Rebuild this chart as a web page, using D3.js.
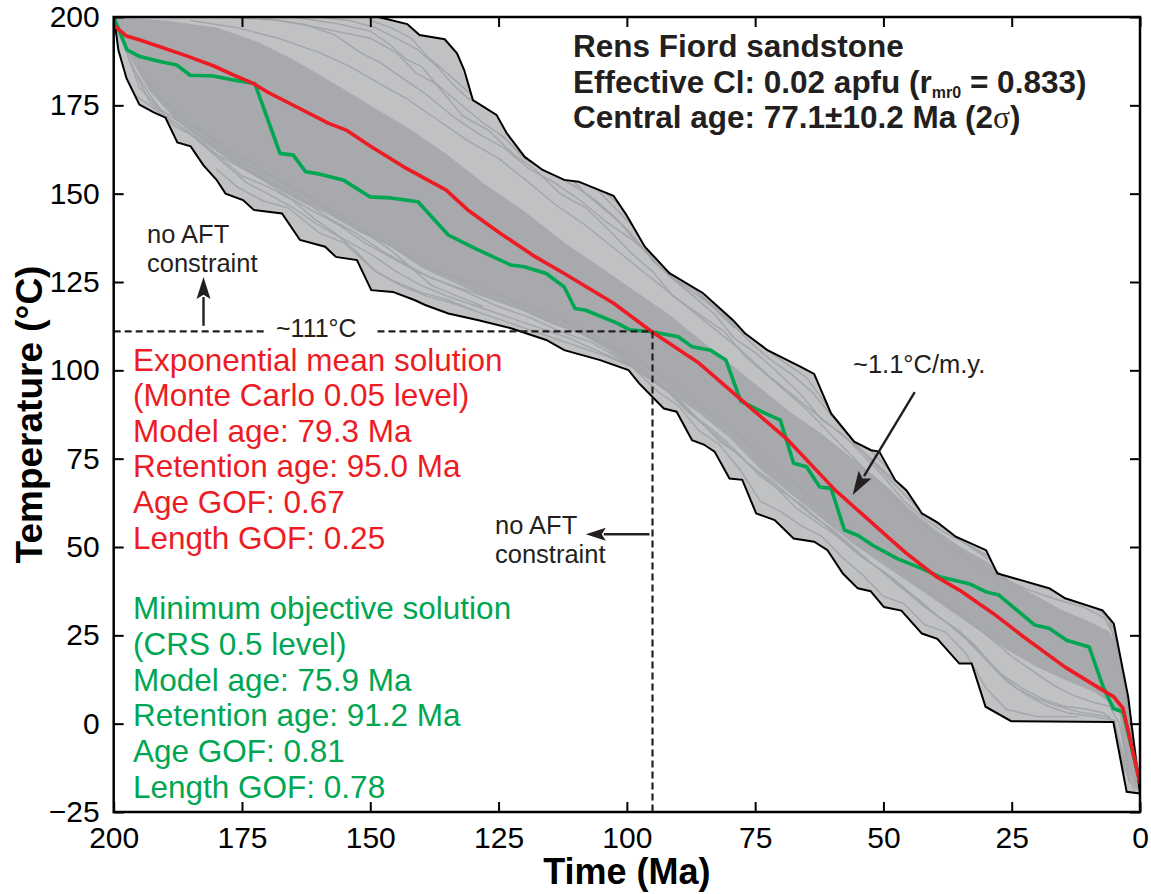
<!DOCTYPE html>
<html><head><meta charset="utf-8">
<script src="https://cdn.jsdelivr.net/npm/d3@7"></script>
<style>
body{margin:0;background:#fff;}
svg{display:block;font-family:"Liberation Sans",Arial,Helvetica,sans-serif;}
</style></head>
<body><svg id="c" width="1151" height="894"></svg>
<script>
// ---------- data (time Ma, temperature °C) ----------
const xTicks = [200,175,150,125,100,75,50,25,0];
const yTicks = [-25,0,25,50,75,100,125,150,175,200];

const envelopeUpper = [[200,200],[148.4,200],[142.8,198.0],[140.4,194.9],[135.5,193.7],[133.1,189.7],[131.7,185.0],[130.0,176.5],[125.4,172.3],[123.4,167.1],[119.9,160.4],[116.4,156.7],[112.2,153.9],[109.4,153.4],[102.6,149.4],[100.1,144.0],[96.5,135.0],[91.7,127.5],[85.2,121.9],[79.3,114.2],[77.0,110.5],[72.6,105.7],[66.1,101.0],[63.5,99.0],[60.2,87.8],[55.7,79.8],[52.4,77.4],[50.8,77.0],[47.7,68.9],[45.5,66.0],[42.5,59.5],[39.5,57.0],[35.9,52.9],[30.0,49.1],[27.8,42.5],[17.6,38.3],[14.6,35.5],[7.3,32.1],[5.1,28.3],[2.3,7.6],[0,-19.7]];

const envelopeLower = [[200,200],[199.6,196.3],[199.1,190.7],[197.5,182.6],[195.0,175.2],[192.2,173.0],[189.9,171.5],[187.6,164.5],[185.0,163.4],[182.5,158.0],[180.0,154.0],[178.2,150.0],[174.8,148.2],[172.7,145.4],[167.2,144.4],[163.7,136.9],[158.8,135.0],[156.7,132.1],[152.6,131.2],[149.8,122.7],[145.6,122.2],[141.4,119.9],[139.3,118.5],[134.8,116.1],[128.9,114.2],[122.6,111.9],[115.7,108.6],[112.2,105.7],[105.2,102.9],[99.7,100.1],[97.6,96.3],[92.8,89.2],[90.3,88.3],[87.3,80.2],[85.0,79.0],[82.9,77.0],[80.0,69.4],[77.5,69.0],[74.8,59.5],[71.2,57.6],[67.5,52.4],[63.5,51.5],[60.9,49.1],[57.9,42.5],[55.0,38.3],[52.5,37.5],[49.9,33.0],[46.5,32.0],[42.5,25.5],[39.5,24.0],[35.2,17.0],[32.8,17.0],[30.1,4.8],[25.1,0.7],[5.2,0.5],[2.6,-19.3],[0,-19.8]];

// solid (dense) part of the path cloud
const coreUpper = [[200,200],[190,199],[180,197],[172,193],[165,188],[158,182],[150,175],[142,168],[135,161],[128,153],[120,145],[112,136],[105,129],[98,122],[92,116],[86,109],[80,102],[74,95],[68,88],[62,82],[56,75],[50,68],[45,61],[40,55],[35,50],[30,46],[25,40],[20,36],[15,32],[10,29],[6,26],[4,20],[2,5],[0,-15]];
const coreLower = [[200,198],[197,189],[193,179],[188,171],[182,164],[176,158],[170,153],[164,148],[158,144],[152,139],[146,135],[140,129],[134,125],[128,121],[122,118],[116,114],[110,111],[104,106],[98,100],[92,94],[86,88],[80,81],[74,72],[68,65],[62,58],[56,51],[50,45],[44,39],[38,33],[32,27],[26,21],[20,16],[14,12],[9,9],[6,6],[4,3],[3,-10],[1,-18],[0,-19]];

// individual t-T paths visible in the sparse outer parts of the cloud
const paths = [
 [[178,200],[168,199],[160,197],[150,194],[145,190],[141,184],[137,181],[133,176],[128,170],[124,166],[120,160],[115,156],[110,152],[106,148],[102,143],[98,136],[94,130],[90,125],[85,120],[80,114],[76,108],[72,103],[68,99],[64,94],[60,87],[56,80],[52,74],[48,68],[44,62],[40,57],[36,53],[32,49],[27,44],[22,40],[16,37],[10,34],[6,30],[4,22],[2,5],[0.5,-14]],
 [[165,200],[156,198],[150,196],[146,192],[143,188],[140,186],[136,179],[132,172],[127,168],[122,161],[118,157],[113,150],[108,146],[103,139],[99,133],[95,128],[91,121],[86,116],[81,111],[77,104],[73,99],[69,94],[65,89],[61,83],[57,77],[53,71],[49,66],[45,59],[41,55],[37,50],[33,46],[28,42],[22,38],[16,35],[11,33],[7,30],[5,25],[3,12],[1,-12]],
 [[150,199],[146,197],[142,194],[139,189],[135,184],[131,179],[126,173],[121,166],[117,162],[112,156],[108,150],[104,145],[100,140],[96,133],[92,127],[87,121],[83,116],[79,109],[75,105],[71,100],[66,93],[62,86],[58,82],[54,76],[50,70],[46,63],[42,58],[38,54],[34,51],[29,47],[24,42],[18,39],[12,36],[8,33],[6,29],[4,18],[2,0]],
 [[185,199],[176,197],[168,194],[160,190],[154,186],[148,181],[143,177],[137,171],[131,165],[125,160],[119,153],[114,147],[108,141],[102,134],[96,127],[90,120],[84,113],[78,106],[72,98],[66,91],[60,84],[54,77],[48,69],[42,62],[36,56],[30,51],[24,46],[18,41],[12,37],[7,33],[5,28],[3,15],[1,-8]],
 [[140,198],[136,195],[133,190],[130,183],[127,178],[123,171],[119,165],[115,160],[111,155],[107,153],[103,147],[99,141],[95,131],[91,126],[87,123],[82,117],[78,112],[74,107],[70,103],[65,98],[61,90],[57,84],[53,78],[49,72],[45,65],[41,60],[37,56],[33,52],[29,48],[24,43],[18,40],[12,37],[8,33],[5,27]],
 [[172,200],[163,198],[157,195],[152,190],[148,187],[144,183],[139,178],[134,172],[129,167],[124,163],[119,157],[114,153],[109,148],[104,142],[99,137],[94,131],[89,126],[84,119],[79,112]],
 [[160,200],[154,199],[149,197],[145,194],[141,191],[137,186],[134,181],[131,177],[127,174],[122,168],[118,163],[113,159],[109,154],[104,150],[100,145],[96,139],[92,132],[88,127]],
 [[199,195],[196,185],[193,178],[190,172],[186,168],[182,163],[178,158],[174,153],[170,150],[165,146],[160,141],[155,137],[150,133],[145,128],[140,124],[135,121],[129,118],[123,115],[117,112],[111,109],[105,105],[100,102],[95,97],[90,92],[86,86],[82,80],[78,76],[74,70],[70,66],[66,62],[62,57],[58,52],[54,47],[50,43],[46,38],[42,33],[38,29],[34,24],[30,18],[26,12],[22,8],[18,5],[14,3],[9,2],[5,1],[3,-12],[1,-19]],
 [[198,192],[195,180],[191,174],[187,170],[183,166],[178,161],[173,156],[168,152],[163,148],[158,143],[153,139],[148,134],[143,130],[138,126],[132,123],[126,120],[120,117],[114,113],[108,110],[102,106],[97,100],[92,94],[88,88],[84,84],[80,79],[76,73],[72,69],[68,64],[64,59],[60,55],[56,50],[52,45],[48,41],[44,36],[40,31],[36,27],[32,22],[28,15],[24,10],[20,7],[16,5],[11,3],[6,2],[4,-5],[2,-17]],
 [[197,188],[193,176],[189,171],[185,167],[181,162],[176,158],[171,154],[166,149],[161,145],[156,141],[151,136],[146,132],[141,128],[136,125],[131,122],[125,118],[119,115],[113,111],[107,108],[101,103],[96,98],[91,93],[87,87],[83,82],[79,77],[75,72],[71,67],[67,61],[63,57],[59,53],[55,48],[51,44],[47,39],[43,35],[39,30],[35,26],[31,20],[27,14],[23,10],[19,7],[15,5],[10,4],[7,3],[5,0],[3,-14]],
 [[194,183],[190,175],[186,170],[181,166],[177,162],[172,158],[167,153],[162,149],[157,144],[152,140],[147,136],[142,132],[137,128],[131,125],[126,122],[121,119],[115,116],[109,112],[104,108],[99,104],[94,99],[89,94],[85,89],[81,85],[77,80],[73,75],[69,70],[65,65],[61,60],[57,56],[53,51],[49,46],[45,42],[41,37],[37,33],[33,29],[29,24],[25,19],[21,15],[17,11],[13,8],[9,6],[6,5],[4,0],[2,-16]],
 [[180,157],[176,152],[171,148],[166,146],[160,139],[155,136],[149,128],[144,124],[139,121],[134,119],[128,116],[122,113],[116,110],[110,107],[104,104],[99,101],[94,94],[90,90],[86,83],[82,79],[78,72],[74,63],[70,60],[66,56],[62,53],[58,47],[54,42],[50,36],[46,34],[42,28],[38,26],[34,20],[30,10],[26,4],[20,2],[12,2]],
 [[196,178],[192,174],[188,169],[184,166],[179,160],[175,155],[170,152],[165,148],[161,143],[157,139],[153,134],[149,128],[145,125],[140,122],[135,120],[130,117]],
 [[190,176],[186,171],[183,168],[179,163],[174,158],[169,155],[164,151],[159,147],[154,142],[150,138],[146,134],[142,129],[138,124],[133,121],[128,118]]
];

const meanPath = [[200,197.7],[197.5,194.6],[194.9,193.5],[191,191.6],[185.8,189],[180.6,186.2],[176.7,183.6],[172.8,181.2],[170.2,178.9],[165.1,175.1],[158.1,169.9],[154.7,168.0],[149.8,163.3],[143.5,157.6],[135.2,151.0],[131.0,145.4],[124.7,138.8],[117.8,132.1],[112.2,127.4],[102.5,118.9],[95.2,111.0],[85.9,102.0],[77.8,91.8],[68.9,80.7],[59.4,66.1],[54.3,59.5],[48.4,51.9],[45.5,48.2],[39.6,41.5],[35.2,37.8],[28.6,31.2],[22.7,24.6],[14.6,16.0],[7.3,9.5],[5.1,7.6],[3.3,4.3],[0,-16.8]];

const bestPath = [[200,200],[197.4,190.7],[194.9,188.8],[191,187.4],[187.7,186.4],[185.1,183.5],[180.6,183.3],[176.7,182.2],[172.5,181.2],[167.6,161.4],[165,160.9],[162.6,156.2],[160,155.6],[155.3,153.9],[150.1,149.1],[146,148.8],[140.7,147.7],[134.8,138.3],[129.6,134.5],[122.6,129.8],[120,129.3],[115.7,127.4],[112.2,123.6],[110.1,117.5],[108,117],[101.8,113.3],[99.5,111.5],[95.1,110.9],[90,109.5],[87.3,106.7],[83.7,105.7],[80.7,102.9],[77.8,91.3],[73.0,87.8],[70.1,85.9],[67.5,73.7],[65.0,72.7],[62.4,67.0],[60.2,66.6],[57.6,54.8],[55.0,53.3],[52.1,50.5],[47.3,46.7],[42.5,43.9],[38.9,41.5],[33.3,39.6],[30.0,37.3],[27.5,36.4],[20.5,27.9],[17.6,26.9],[14.3,23.6],[9.9,21.7],[7.2,10.5],[5.2,4.3],[3.3,3.3],[0,-16.8]];

const retentionAge = 95.0, retentionTemp = 111;

const titleLines = ["Rens Fiord sandstone","Effective Cl: 0.02 apfu (r","Central age: 77.1±10.2 Ma (2"];
const meanLines = ["Exponential mean solution","(Monte Carlo 0.05 level)","Model age: 79.3 Ma","Retention age: 95.0 Ma","Age GOF: 0.67","Length GOF: 0.25"];
const bestLines = ["Minimum objective solution","(CRS 0.5 level)","Model age: 75.9 Ma","Retention age: 91.2 Ma","Age GOF: 0.81","Length GOF: 0.78"];

// ---------- drawing ----------
const RED = "#ed1c24", GREEN = "#00a651";
const svg = d3.select("#c");
const L = 113.7, R = 1140, T = 17, B = 812;
const x = d3.scaleLinear().domain([200,0]).range([L,R]);
const y = d3.scaleLinear().domain([-25,200]).range([B,T]);
const line = d3.line().x(d=>x(d[0])).y(d=>y(d[1]));
const poly = (up, lo) => line(up) + line(lo.slice().reverse()).replace(/^M/,"L") + "Z";

const defs = svg.append("defs");
defs.append("clipPath").attr("id","pc").append("rect").attr("x",L).attr("y",T).attr("width",R-L).attr("height",B-T);
defs.append("clipPath").attr("id","ec").append("path").attr("d", poly(envelopeUpper, envelopeLower));
const g = svg.append("g").attr("clip-path","url(#pc)");

g.append("path").attr("d", poly(envelopeUpper, envelopeLower)).attr("fill","#bfc1c3");
g.append("path").attr("d", poly(coreUpper, coreLower)).attr("fill","#a7a9ac");
g.append("g").attr("clip-path","url(#ec)").selectAll(".strand").data(paths).join("path").attr("class","strand")
  .attr("d", line).attr("fill","none").attr("stroke","#a3a5a8").attr("stroke-width",1.4);
g.append("path").attr("d", line(envelopeUpper)).attr("fill","none").attr("stroke","#000").attr("stroke-width",2);
g.append("path").attr("d", line(envelopeLower)).attr("fill","none").attr("stroke","#000").attr("stroke-width",2);
g.append("path").attr("d", line(bestPath)).attr("fill","none").attr("stroke",GREEN).attr("stroke-width",3.6).attr("stroke-linejoin","round");
g.append("path").attr("d", line(meanPath)).attr("fill","none").attr("stroke",RED).attr("stroke-width",3.6).attr("stroke-linejoin","round");

// dashed reference lines
function dl(x1,y1,x2,y2){ svg.append("line").attr("x1",x1).attr("y1",y1).attr("x2",x2).attr("y2",y2)
  .attr("stroke","#231f20").attr("stroke-width",2.2).attr("stroke-dasharray","7,4"); }
dl(L, y(retentionTemp), x(170.6), y(retentionTemp));
dl(x(148.6), y(retentionTemp), x(retentionAge), y(retentionTemp));
dl(x(retentionAge), y(retentionTemp), x(retentionAge), B);

// axes
const fs = 30;
const ax = svg.append("g");
const gb = ax.append("g").attr("transform",`translate(0,${B})`).call(d3.axisBottom(x).tickValues(xTicks).tickSize(-10).tickPadding(15));
const gl = ax.append("g").attr("transform",`translate(${L},0)`).call(d3.axisLeft(y).tickValues(yTicks).tickSize(-10).tickPadding(14));
const gt = ax.append("g").attr("transform",`translate(0,${T})`).call(d3.axisTop(x).tickValues(xTicks).tickSize(-10).tickFormat(""));
const gr = ax.append("g").attr("transform",`translate(${R},0)`).call(d3.axisRight(y).tickValues(yTicks).tickSize(-10).tickFormat(""));
[gb,gl,gt,gr].forEach(a=>{a.select(".domain").remove(); a.selectAll(".tick line").attr("stroke","#000").attr("stroke-width",2);
  a.selectAll(".tick text").attr("font-size",fs).attr("fill","#000").attr("font-family","\"Liberation Sans\",Arial,sans-serif");});
svg.append("rect").attr("x",L).attr("y",T).attr("width",R-L).attr("height",B-T).attr("fill","none").attr("stroke","#000").attr("stroke-width",2.5);

// axis titles
svg.append("text").attr("x",(L+R)/2).attr("y",884).attr("text-anchor","middle").attr("font-weight","bold").attr("font-size",36).text("Time (Ma)");
svg.append("text").attr("transform",`translate(42,${(T+B)/2}) rotate(-90)`).attr("text-anchor","middle").attr("font-weight","bold").attr("font-size",37).text("Temperature (°C)");

// title block
const tb = svg.append("g").attr("font-weight","bold").attr("font-size",31.5).attr("fill","#231f20");
tb.append("text").attr("x",573).attr("y",57).text(titleLines[0]);
const t2 = tb.append("text").attr("x",573).attr("y",92.5).text(titleLines[1]);
t2.append("tspan").attr("font-size",16).attr("dy",5).text("mr0");
t2.append("tspan").attr("dy",-5).text(" = 0.833)");
const t3 = tb.append("text").attr("x",573).attr("y",128).text(titleLines[2]);
t3.append("tspan").attr("font-family","\"Liberation Serif\",serif").attr("font-weight","normal").text("σ");
t3.append("tspan").text(")");

// solution blocks
svg.append("g").attr("fill",RED).attr("font-size",31.5).selectAll("text").data(meanLines).join("text")
  .attr("x",133).attr("y",(d,i)=>370.5+i*35.6).text(d=>d);
svg.append("g").attr("fill",GREEN).attr("font-size",31.5).selectAll("text").data(bestLines).join("text")
  .attr("x",133).attr("y",(d,i)=>619+i*35.8).text(d=>d);

// annotations
const an = svg.append("g").attr("fill","#231f20").attr("font-size",25.5);
an.append("text").attr("x",147).attr("y",243).text("no AFT");
an.append("text").attr("x",147).attr("y",272).text("constraint");
an.append("text").attr("x",495).attr("y",534).text("no AFT");
an.append("text").attr("x",495).attr("y",563).text("constraint");
an.append("text").attr("x",276).attr("y",336.5).attr("font-size",25).text("~111°C");
an.append("text").attr("x",853).attr("y",373).text("~1.1°C/m.y.");

function arrow(x1,y1,x2,y2,len,wid){
  const a=Math.atan2(y2-y1,x2-x1), bx=x2-len*Math.cos(a), by=y2-len*Math.sin(a);
  svg.append("line").attr("x1",x1).attr("y1",y1).attr("x2",bx+2*Math.cos(a)).attr("y2",by+2*Math.sin(a)).attr("stroke","#231f20").attr("stroke-width",2.4);
  const px=-Math.sin(a)*wid/2, py=Math.cos(a)*wid/2;
  svg.append("path").attr("d",`M${x2},${y2}L${bx+px},${by+py}L${bx+len*0.2*Math.cos(a)},${by+len*0.2*Math.sin(a)}L${bx-px},${by-py}Z`).attr("fill","#231f20");
}
arrow(x(182.5), y(112.6), x(182.5), y(126.4), 22, 14);
arrow(x(retentionAge)-3, y(53.6), x(108.0), y(53.6), 20, 13);
arrow(x(43.9), y(93.8), x(56.0), y(64.7), 24, 15);
</script></body></html>
